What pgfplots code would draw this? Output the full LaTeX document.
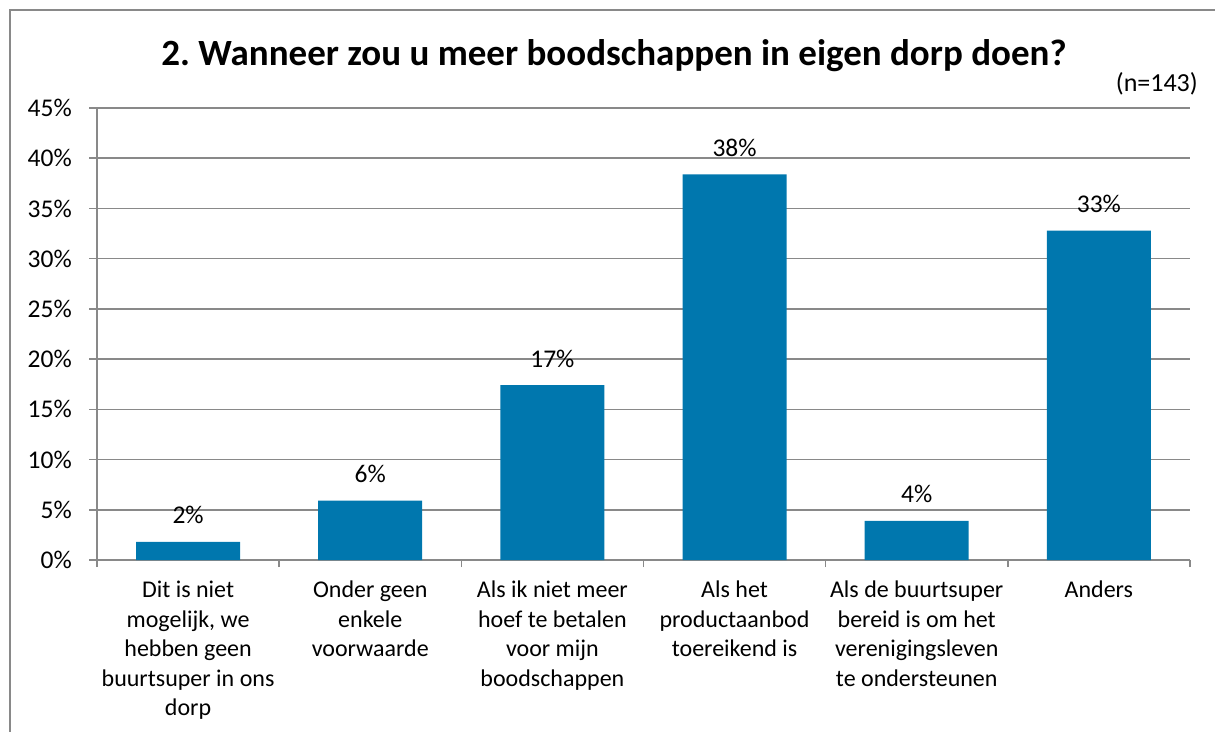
\documentclass[border=0pt]{standalone}
\usepackage{pgfplots}
\pgfplotsset{compat=1.18}
\usepackage{fontspec}
\setmainfont{Carlito}
\frenchspacing
\definecolor{barblue}{HTML}{0077AE}
\definecolor{gridgray}{HTML}{898989}
\begin{document}
\begin{tikzpicture}[x=1pt,y=1pt]
\useasboundingbox (0,0) rectangle (1215,731);
\draw[gridgray, line width=2pt] (9.5,-5) -- (9.5,721) -- (1220,721);
\node[anchor=base, inner sep=0pt, font=\fontsize{37}{44}\selectfont\bfseries] at (614,665) {2. Wanneer zou u meer boodschappen in eigen dorp doen?};
\node[anchor=base east, inner sep=0pt, font=\fontsize{26}{31}\selectfont] at (1198,639) {(n=143)};
\begin{axis}[
  at={(97pt,171pt)}, anchor=south west,
  scale only axis, width=1093pt, height=452pt,
  xmin=-0.5, xmax=5.5, ymin=0, ymax=45,
  axis lines*=left,
  axis line style={gridgray, line width=1.5pt},
  ytick={0,5,...,45},
  yticklabel={\pgfmathprintnumber{\tick}\%},
  /pgf/number format/assume math mode=true,
  yticklabel style={font=\fontsize{25.5}{30}\selectfont, inner sep=0pt, xshift=-17pt},
  ymajorgrids,
  grid style={gridgray, line width=1.5pt},
  tick align=outside,
  major tick length=8pt,
  ytick style={gridgray, line width=1.5pt},
  xtick={0,...,5},
  xtick style={draw=none},
  xticklabels={
    {Dit is niet\\mogelijk, we\\hebben geen\\buurtsuper in ons\\dorp},
    {Onder geen\\enkele\\voorwaarde},
    {Als ik niet meer\\hoef te betalen\\voor mijn\\boodschappen},
    {Als het\\productaanbod\\toereikend is},
    {Als de buurtsuper\\bereid is om het\\verenigingsleven\\te ondersteunen},
    {Anders}},
  xticklabel style={font=\fontsize{24}{29.5}\selectfont, align=center, anchor=north, inner sep=0pt, yshift=-13pt},
  extra x ticks={-0.5,0.5,...,5.5},
  extra x tick labels={},
  extra x tick style={xtick style={draw=gridgray, line width=1.5pt}, major tick length=7pt, xmajorgrids=false},
  clip=false,
  nodes near coords={\pgfmathprintnumber[fixed,precision=0]{\pgfplotspointmeta}\%},
  every node near coord/.append style={font=\fontsize{25.5}{30}\selectfont, anchor=base, inner sep=0pt, yshift=18pt},
]
\addplot[ybar, bar width=104pt, fill=barblue, draw=none] coordinates {
  (0,1.8) (1,5.9) (2,17.4) (3,38.4) (4,3.9) (5,32.8)
};
\end{axis}
\end{tikzpicture}
\end{document}
